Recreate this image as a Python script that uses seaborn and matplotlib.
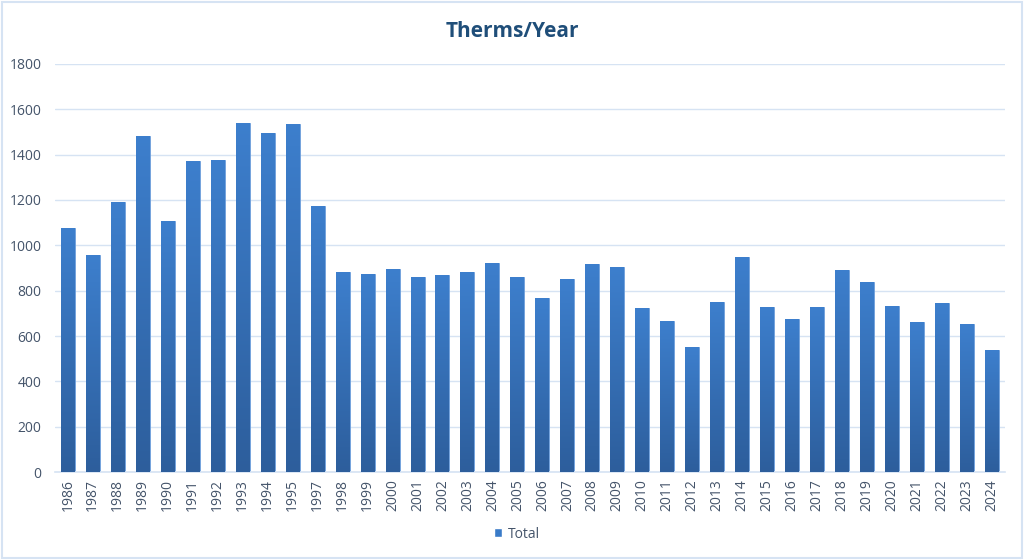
import numpy as np
import pandas as pd
import matplotlib
matplotlib.use('Agg')
import matplotlib.pyplot as plt
import seaborn as sns
from matplotlib.colors import LinearSegmentedColormap
from matplotlib.patches import Rectangle

# Datos (no hay 1996)
years = ['1986', '1987', '1988', '1989', '1990', '1991', '1992', '1993', '1994', '1995',
         '1997', '1998', '1999', '2000', '2001', '2002', '2003', '2004', '2005', '2006',
         '2007', '2008', '2009', '2010', '2011', '2012', '2013', '2014', '2015', '2016',
         '2017', '2018', '2019', '2020', '2021', '2022', '2023', '2024']
therms = [1078, 955, 1191, 1484, 1105, 1370, 1375, 1538, 1497, 1534,
          1172, 881, 875, 894, 860, 867, 883, 922, 860, 766,
          850, 916, 903, 722, 666, 550, 751, 947, 728, 673,
          728, 891, 837, 731, 662, 744, 651, 538]

df = pd.DataFrame({'Year': years, 'Total': therms})

sns.set_theme(style='white')
plt.rcParams['font.family'] = ['Open Sans', 'DejaVu Sans']

text_color = '#44546A'
grid_color = '#D6E3F3'

fig = plt.figure(figsize=(10.24, 5.6), dpi=100)
ax = fig.add_axes([0.054, 0.157, 0.927, 0.729])

sns.barplot(data=df, x='Year', y='Total', color='#3A7BC8', width=0.56,
            saturation=1, ax=ax, zorder=2)

# Degradado vertical en cada barra
cmap = LinearSegmentedColormap.from_list('grad', ['#2D5E9C', '#3D7FCD'])
grad = np.linspace(0, 1, 256).reshape(-1, 1)
for p in ax.patches:
    x0, w, h = p.get_x(), p.get_width(), p.get_height()
    im = ax.imshow(grad, cmap=cmap, aspect='auto', origin='lower',
                   extent=[x0, x0 + w, 0, h], zorder=3)
    im.set_clip_path(p)
    p.set_edgecolor('#6FA0DC')
    p.set_linewidth(0.6)

ax.set_xlim(-0.5, len(years) - 0.5)
ax.set_ylim(0, 1800)
ax.set_yticks(range(0, 1801, 200))
ax.grid(axis='y', color=grid_color, linewidth=1, zorder=0)
ax.set_axisbelow(True)
for side in ['top', 'right', 'left']:
    ax.spines[side].set_visible(False)
ax.spines['bottom'].set_color(grid_color)
ax.spines['bottom'].set_linewidth(1.2)

ax.set_xlabel('')
ax.set_ylabel('')
ax.tick_params(axis='x', rotation=90, labelsize=10, colors=text_color, length=0, pad=5)
ax.tick_params(axis='y', labelsize=10, colors=text_color, length=0, pad=10)

fig.text(0.5, 0.943, 'Therms/Year', ha='center', va='center', fontsize=15,
         fontweight='bold', color='#1F4E79')

# Leyenda inferior
handle = Rectangle((0, 0), 1, 1, facecolor='#3A7BC8')
fig.legend([handle], ['Total'], loc='center', bbox_to_anchor=(0.505, 0.046),
           frameon=False, fontsize=10, labelcolor=text_color,
           handlelength=0.6, handleheight=0.6, handletextpad=0.4)

# Borde exterior
fig.patches.append(Rectangle((0.002, 0.003), 0.996, 0.994, transform=fig.transFigure,
                             fill=False, edgecolor='#D6E3F3', linewidth=1.5))

fig.savefig('out.png', dpi=100)
